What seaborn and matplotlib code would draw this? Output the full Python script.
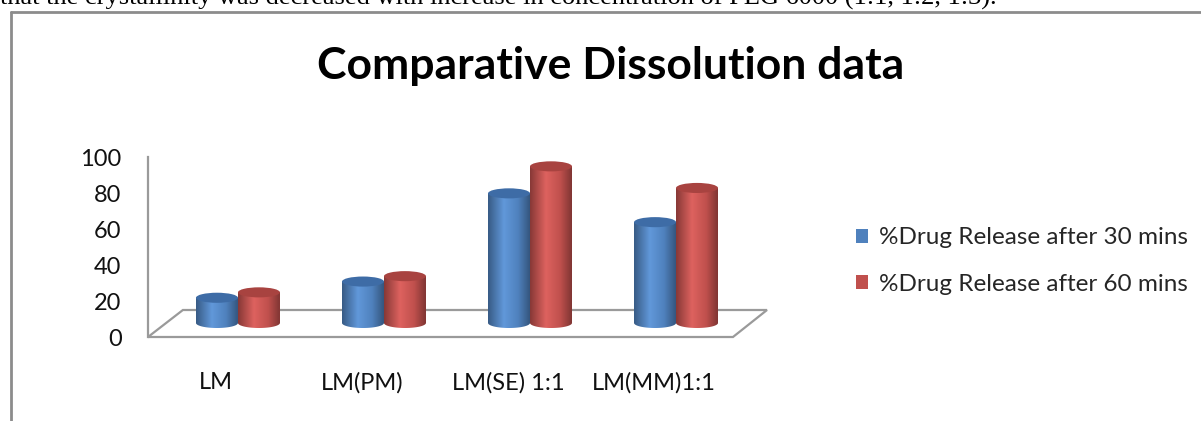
import numpy as np
import pandas as pd
import matplotlib
matplotlib.use("Agg")
import matplotlib.pyplot as plt
import matplotlib.transforms as mtransforms
import seaborn as sns
from matplotlib.patches import Ellipse, Polygon, Rectangle
from matplotlib.lines import Line2D
from matplotlib.colors import LinearSegmentedColormap, to_rgb

# ---- data -------------------------------------------------------------
formulations = ["LM", "LM(PM)", "LM(SE) 1:1", "LM(MM)1:1"]
release_30 = [14, 23, 72, 56]
release_60 = [17, 26, 87, 75]
series_names = ["%Drug Release after 30 mins", "%Drug Release after 60 mins"]
y_ticks = [0, 20, 40, 60, 80, 100]
title = "Comparative Dissolution data"
caption = ("that the crystallinity was decreased with increase in concentration "
           "of PEG 6000 (1:1, 1:2, 1:3).")

df = pd.DataFrame({
    "Formulation": formulations * 2,
    "Release": release_30 + release_60,
    "Series": [series_names[0]] * len(formulations) + [series_names[1]] * len(formulations),
})

BLUE = "#4F81BD"
RED = "#C0504D"
CAP = {BLUE: "#3E6CA6", RED: "#A84340"}
GRID = "#9A9A9A"

sns.set_theme(style="white")
plt.rcParams["font.family"] = ["Lato", "DejaVu Sans"]

W, H = 1201, 421
fig = plt.figure(figsize=(W / 100, H / 100), dpi=100)


def fx(px):
    return px / W


def fy(py):
    return 1 - py / H


# plot box of the chart (front-left corner of the floor = value 0)
ax = fig.add_axes([fx(148), fy(337), (767 - 148) / W, (337 - 157) / H])

sns.barplot(data=df, x="Formulation", y="Release", hue="Series",
            palette=[BLUE, RED], width=0.575, saturation=1, errorbar=None,
            ax=ax, legend=False)

XL, XR = -0.616, 3.623
FLOOR_DEPTH = 15.0        # back edge of the floor, value units
BASE = 7.8                # centre line of the cylinder bases
CAP_H = 5.6               # height of the elliptical caps, value units

# floor of the 3-D plot area
floor = Polygon([(XL, 0), (3.390, 0), (XR, FLOOR_DEPTH), (-0.377, FLOOR_DEPTH)],
                closed=True, facecolor="white", edgecolor=GRID, lw=1.6,
                zorder=1, clip_on=False)
ax.add_patch(floor)


def cylinder_cmap(base):
    c = np.array(to_rgb(base))
    dark = c * 0.70
    light = np.clip(c * 1.10 + 0.04, 0, 1)
    return LinearSegmentedColormap.from_list(
        "cyl", [(0, dark), (0.38, light), (0.72, c), (1, dark * 0.95)])


grad = np.linspace(0, 1, 256)[None, :]
for k, (container, color) in enumerate(zip(ax.containers, [BLUE, RED])):
    cmap = cylinder_cmap(color)
    z = 3 + 3 * k
    for bar in container:
        x0, w, h = bar.get_x(), bar.get_width(), bar.get_height()
        bar.set_y(BASE)
        bar.set_zorder(z)
        bar.set_edgecolor("none")
        xc = x0 + w / 2
        top = BASE + h
        # body outline: straight sides, rounded bottom
        t = np.linspace(np.pi, 2 * np.pi, 60)
        arc = np.column_stack([xc + w / 2 * np.cos(t), BASE + CAP_H / 2 * np.sin(t)])
        outline = np.vstack([[x0, top], arc, [x0 + w, top]])
        clip = Polygon(outline, closed=True, transform=ax.transData)
        im = ax.imshow(grad, cmap=cmap, aspect="auto", interpolation="bilinear",
                       extent=[x0, x0 + w, BASE - CAP_H / 2, top], zorder=z + 0.5)
        im.set_clip_path(clip)
        ax.add_patch(Ellipse((xc, top), w, CAP_H, facecolor=CAP[color],
                             edgecolor="none", zorder=z + 1, clip_on=False))

ax.set_xlim(XL, XR)
ax.set_ylim(0, 100)
ax.set_yticks(y_ticks)
ax.set_xticks(range(len(formulations)))
ax.set_xticklabels(formulations)
ax.set_xlabel("")
ax.set_ylabel("")
ax.set_facecolor("none")
for side in ["top", "right", "bottom"]:
    ax.spines[side].set_visible(False)
ax.spines["left"].set_color(GRID)
ax.spines["left"].set_linewidth(1.6)
ax.tick_params(axis="y", length=0, pad=19, labelsize=17, labelcolor="#111111")
ax.tick_params(axis="x", length=0, pad=25, labelsize=17, labelcolor="#111111")
shift = mtransforms.ScaledTranslation(-0.22, 0, fig.dpi_scale_trans)
for lab in ax.get_xticklabels():
    lab.set_transform(lab.get_transform() + shift)

# title
fig.text(fx(611), fy(66), title, ha="center", va="center",
         fontsize=32, fontweight="bold", color="black")

# legend
handles = [Rectangle((0, 0), 1, 1, facecolor=c, edgecolor="none") for c in (BLUE, RED)]
fig.legend(handles, series_names, loc="center left",
           bbox_to_anchor=(fx(856), fy(261)), frameon=False, fontsize=17.5,
           handlelength=0.5, handleheight=0.5, handletextpad=0.45,
           labelspacing=1.05, borderaxespad=0, borderpad=0)

# chart frame and the running text above it
fig.add_artist(Line2D([fx(11), fx(11)], [fy(12), 0], color="#8C8C8C", lw=2))
fig.add_artist(Line2D([fx(11), 1], [fy(12), fy(12)], color="#8C8C8C", lw=2))
fig.text(0, fy(4.5), caption, ha="left", va="baseline",
         family=["Liberation Serif"], fontsize=19, color="black")

fig.savefig("out.png", dpi=100)
